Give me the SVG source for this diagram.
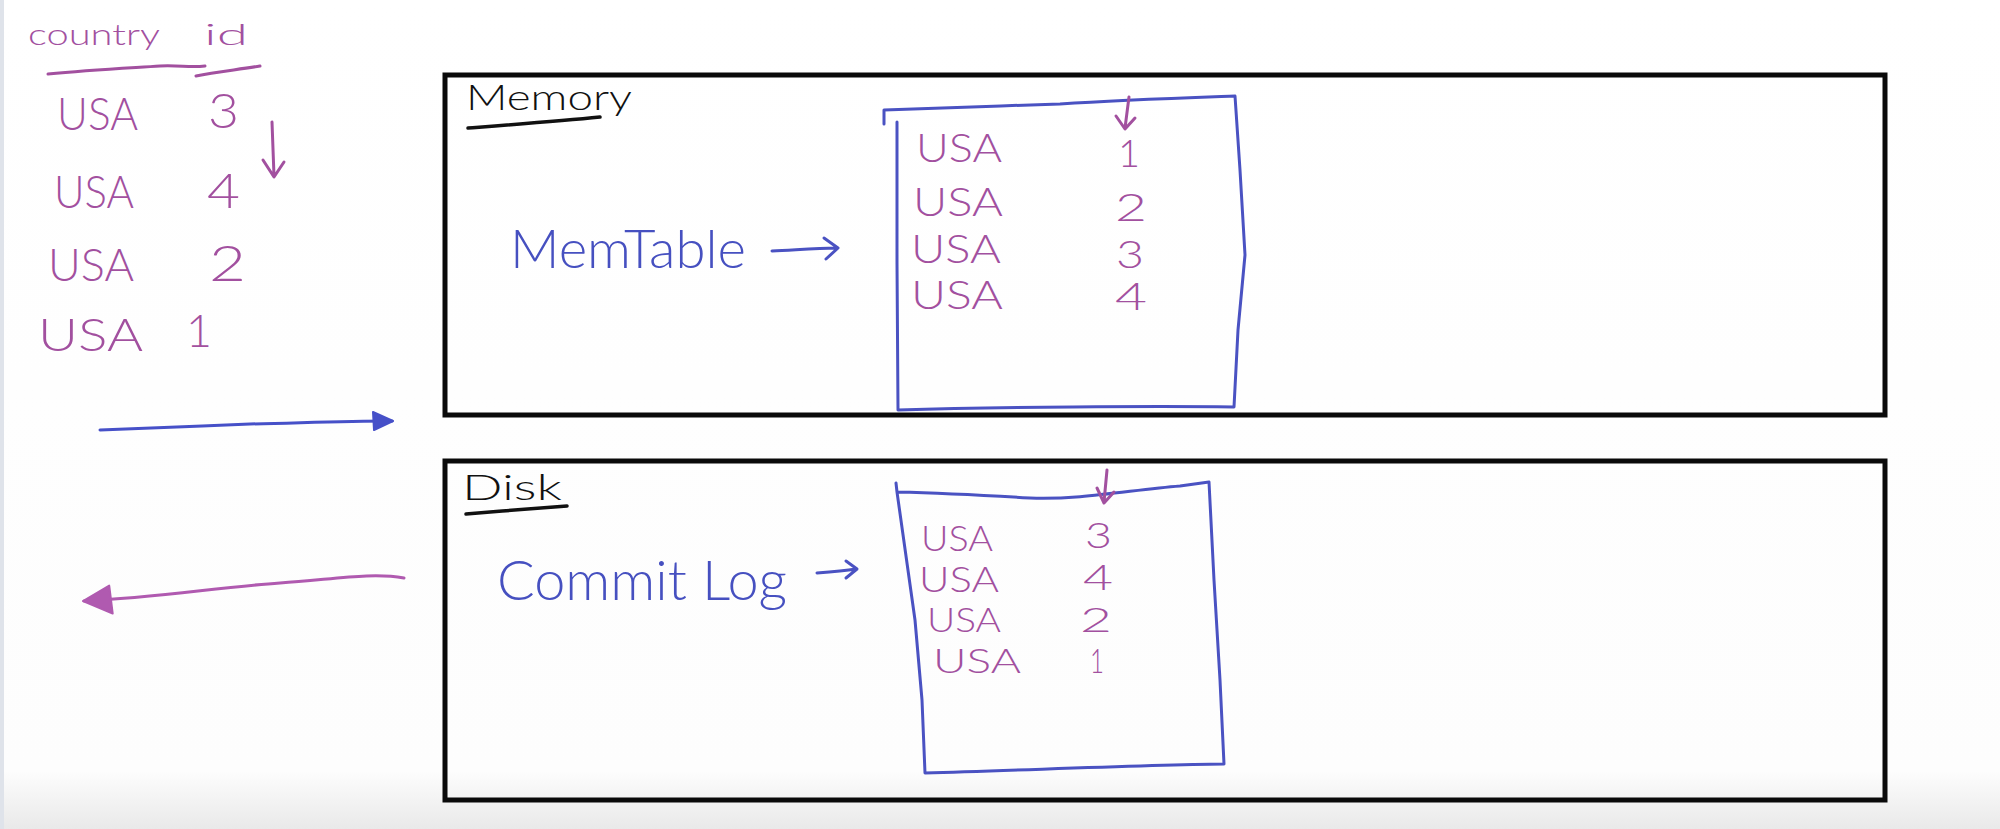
<svg xmlns="http://www.w3.org/2000/svg" width="2000" height="829" viewBox="0 0 2000 829">
<style>
.hand{font-family:"Lato","Liberation Sans","DejaVu Sans",sans-serif;font-weight:300;}
.pk{fill:#a2509f;}
.bl{fill:#4650c0;}
.bk{fill:#111;}
.box{fill:none;stroke:#0a0a0a;stroke-width:5;}
.blu{fill:none;stroke:#4a52c2;stroke-width:3;stroke-linecap:round;stroke-linejoin:round;}
.pku{fill:none;stroke:#a2509f;stroke-width:3;stroke-linecap:round;stroke-linejoin:round;}
.ul{fill:none;stroke:#111;stroke-width:3.5;stroke-linecap:round;}
</style>
<defs>
<linearGradient id="bg" x1="0" y1="0" x2="0" y2="1">
<stop offset="0" stop-color="#ffffff"/>
<stop offset="0.93" stop-color="#fdfdfd"/>
<stop offset="1" stop-color="#e9e9e9"/>
</linearGradient>
<marker id="headBlue" viewBox="0 0 24 24" refX="22" refY="12" markerWidth="24" markerHeight="24" markerUnits="userSpaceOnUse" orient="auto">
<path d="M3,3 L23,12 L4,21 Z" fill="#4650c8" stroke="#4650c8" stroke-width="2" stroke-linejoin="round"/>
</marker>
<marker id="headPink" viewBox="0 0 32 32" refX="30" refY="16" markerWidth="32" markerHeight="32" markerUnits="userSpaceOnUse" orient="auto">
<path d="M2,2 L31,16 L4,30 Z" fill="#b05ab0" stroke="#b05ab0" stroke-width="2" stroke-linejoin="round"/>
</marker>
</defs>
<rect x="0" y="0" width="2000" height="829" fill="url(#bg)"/>
<rect x="0" y="0" width="4" height="829" fill="#dfe3ea"/>

<g id="input-table">
<text class="hand pk" x="28" y="45" font-size="30" textLength="132" lengthAdjust="spacingAndGlyphs">country</text>
<text class="hand pk" x="204" y="45" font-size="30" textLength="44" lengthAdjust="spacingAndGlyphs">id</text>
<path class="pku" d="M48,74 C90,70 130,68 160,66 C180,65 190,68 205,66"/>
<path class="pku" d="M196,76 C215,72 235,70 260,66"/>
<text class="hand pk" x="57" y="130" font-size="46" textLength="81" lengthAdjust="spacingAndGlyphs">USA</text>
<text class="hand pk" x="208" y="128" font-size="48" textLength="31" lengthAdjust="spacingAndGlyphs">3</text>
<text class="hand pk" x="54" y="208" font-size="46" textLength="80" lengthAdjust="spacingAndGlyphs">USA</text>
<text class="hand pk" x="207" y="208" font-size="48" textLength="33" lengthAdjust="spacingAndGlyphs">4</text>
<text class="hand pk" x="48" y="281" font-size="46" textLength="86" lengthAdjust="spacingAndGlyphs">USA</text>
<text class="hand pk" x="209" y="281" font-size="50" textLength="37" lengthAdjust="spacingAndGlyphs">2</text>
<text class="hand pk" x="38" y="351" font-size="46" textLength="105" lengthAdjust="spacingAndGlyphs">USA</text>
<text class="hand pk" x="186" y="347" font-size="46" textLength="26" lengthAdjust="spacingAndGlyphs">1</text>
<path class="pku" d="M272,122 L274,176 M263,160 L274,177 L284,162"/>
</g>

<g id="memory">
<rect class="box" x="445" y="75" width="1440" height="340"/>
<text class="hand bk" x="466" y="110" font-size="36" textLength="166" lengthAdjust="spacingAndGlyphs">Memory</text>
<path class="ul" d="M468,128 C520,124 560,121 600,117"/>
</g>

<g id="memtable">
<text class="hand bl" x="510" y="268" font-size="54" textLength="236" lengthAdjust="spacingAndGlyphs">MemTable</text>
<path class="blu" d="M772,251 C795,250 815,248 837,248 M824,238 L838,248 L826,259"/>
<path class="blu" d="M884,124 L884,110 C960,107 1000,106 1060,104 C1120,100 1180,98 1235,96 L1240,170 L1245,255 L1238,330 L1234,407 C1150,406 1000,407 898,410 L897,262 L897,122"/>
<path class="pku" d="M1129,97 L1125,128 M1116,116 L1125,129 L1135,118"/>
<text class="hand pk" x="916" y="162" font-size="39" textLength="86" lengthAdjust="spacingAndGlyphs">USA</text>
<text class="hand pk" x="1118" y="167" font-size="38" textLength="22" lengthAdjust="spacingAndGlyphs">1</text>
<text class="hand pk" x="913" y="216" font-size="39" textLength="90" lengthAdjust="spacingAndGlyphs">USA</text>
<text class="hand pk" x="1115" y="221" font-size="38" textLength="32" lengthAdjust="spacingAndGlyphs">2</text>
<text class="hand pk" x="911" y="263" font-size="39" textLength="90" lengthAdjust="spacingAndGlyphs">USA</text>
<text class="hand pk" x="1116" y="268" font-size="38" textLength="28" lengthAdjust="spacingAndGlyphs">3</text>
<text class="hand pk" x="911" y="309" font-size="39" textLength="92" lengthAdjust="spacingAndGlyphs">USA</text>
<text class="hand pk" x="1115" y="310" font-size="38" textLength="32" lengthAdjust="spacingAndGlyphs">4</text>
</g>

<g id="disk">
<rect class="box" x="445" y="461" width="1440" height="339"/>
<text class="hand bk" x="462" y="500" font-size="36" textLength="100" lengthAdjust="spacingAndGlyphs">Disk</text>
<path class="ul" d="M466,514 C500,511 530,509 567,506"/>
</g>

<g id="commitlog">
<text class="hand bl" x="497" y="600" font-size="56" textLength="290" lengthAdjust="spacingAndGlyphs">Commit Log</text>
<path class="blu" d="M817,573 C830,572 843,571 856,569 M846,561 L857,569 L846,578"/>
<path class="blu" d="M896,483 L897,492 C940,493 980,495 1030,498 C1080,500 1130,490 1180,486 L1209,482 L1214,580 L1220,680 L1224,764 C1140,765 1030,770 925,773 L922,700 L915,620 L897,492"/>
<path class="pku" d="M1107,470 L1104,502 M1097,488 L1104,503 L1114,492"/>
<text class="hand pk" x="921" y="551" font-size="36" textLength="72" lengthAdjust="spacingAndGlyphs">USA</text>
<text class="hand pk" x="1085" y="548" font-size="36" textLength="27" lengthAdjust="spacingAndGlyphs">3</text>
<text class="hand pk" x="919" y="592" font-size="36" textLength="80" lengthAdjust="spacingAndGlyphs">USA</text>
<text class="hand pk" x="1083" y="590" font-size="36" textLength="30" lengthAdjust="spacingAndGlyphs">4</text>
<text class="hand pk" x="927" y="632" font-size="34" textLength="74" lengthAdjust="spacingAndGlyphs">USA</text>
<text class="hand pk" x="1080" y="632" font-size="34" textLength="32" lengthAdjust="spacingAndGlyphs">2</text>
<text class="hand pk" x="933" y="673" font-size="34" textLength="88" lengthAdjust="spacingAndGlyphs">USA</text>
<text class="hand pk" x="1090" y="673" font-size="34" textLength="14" lengthAdjust="spacingAndGlyphs">1</text>
</g>

<g id="connectors">
<path d="M100,430 C160,428 200,426 250,424 C300,423 340,421 392,421" fill="none" stroke="#4650c8" stroke-width="3" stroke-linecap="round" marker-end="url(#headBlue)"/>
<path d="M404,578 C370,572 330,580 280,583 C220,587 160,597 84,601" fill="none" stroke="#b05ab0" stroke-width="3" stroke-linecap="round" marker-end="url(#headPink)"/>
</g>
</svg>
